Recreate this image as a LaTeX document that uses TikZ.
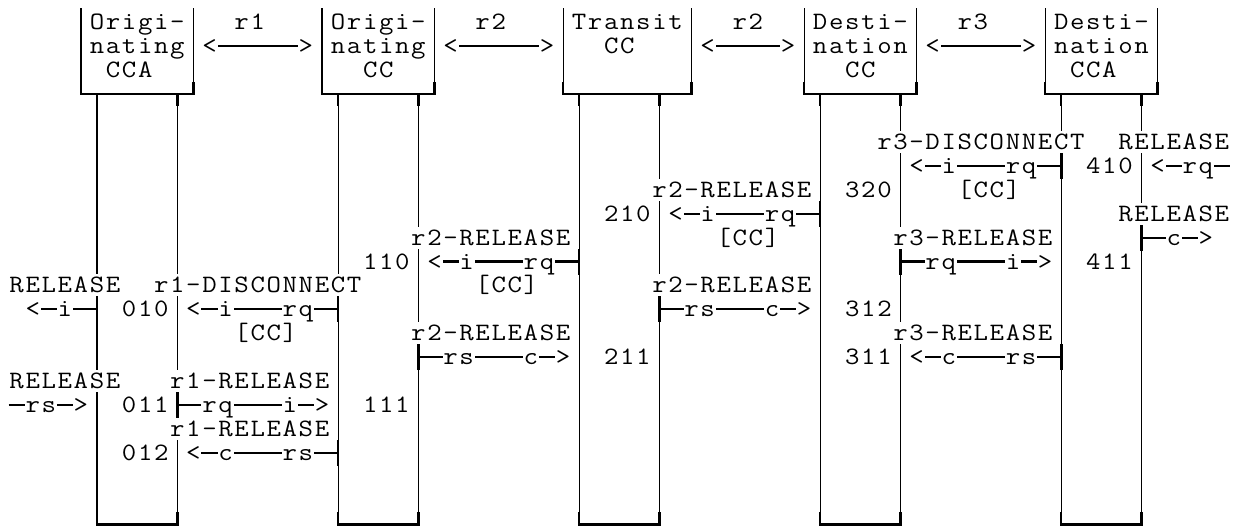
\documentclass[tikz,border=0pt]{standalone}
\usepackage{graphicx}
\usetikzlibrary{backgrounds}
\newlength\cellw
\setlength\cellw{16.07pt}
\ExplSyntaxOn
\NewDocumentCommand\gridtxt{m}{\tl_map_inline:nn{#1}{\makebox[\cellw][c]{\scalebox{1.12}[1]{##1}}}}
\ExplSyntaxOff
\newcommand\GT[4]{\node[txt] (#1) at (#2-0.5,#3) {\gridtxt{#4}};}
\begin{document}
\begin{tikzpicture}[x=16.07pt, y=-23.9pt,
  txt/.style={inner sep=0pt, outer sep=0pt, fill=white, anchor=base west,
    text height=18.5pt, text depth=3.5pt, yshift=-7.5pt,
    font=\fontsize{25}{25}\ttfamily\selectfont},
  thinln/.style={line width=1.1pt},
  thickln/.style={line width=2.5pt, line join=miter},
  msgln/.style={line width=2.2pt},
  tickln/.style={line width=2.6pt}]
\useasboundingbox (-0.6pt,22.5pt) rectangle (1244.4pt,-504.5pt);

% ---------- header texts ----------
\GT{b0a}{6}{0}{Origi-}
\GT{b0b}{6}{1}{nating}
\GT{b0c}{7}{2}{CCA}
\GT{b1a}{21}{0}{Origi-}
\GT{b1b}{21}{1}{nating}
\GT{b1c}{23}{2}{CC}
\GT{b2a}{36}{0}{Transit}
\GT{b2b}{38}{1}{CC}
\GT{b3a}{51}{0}{Desti-}
\GT{b3b}{51}{1}{nation}
\GT{b3c}{53}{2}{CC}
\GT{b4a}{66}{0}{Desti-}
\GT{b4b}{66}{1}{nation}
\GT{b4c}{67}{2}{CCA}
\GT{r1lab}{15}{0}{r1}
\GT{r2alab}{30}{0}{r2}
\GT{r2blab}{46}{0}{r2}
\GT{r3lab}{60}{0}{r3}
\GT{h1l}{13}{1}{<} \GT{h1r}{19}{1}{>}
\GT{h2l}{28}{1}{<} \GT{h2r}{34}{1}{>}
\GT{h3l}{44}{1}{<} \GT{h3r}{49}{1}{>}
\GT{h4l}{58}{1}{<} \GT{h4r}{64}{1}{>}

% ---------- labels ----------
\GT{L5a}{55}{5}{r3-DISCONNECT}
\GT{L5b}{70}{5}{RELEASE}
\GT{S410}{68}{6}{410}
\GT{L7a}{41}{7}{r2-RELEASE}
\GT{S320}{53}{7}{320}
\GT{C7}{60}{7}{[CC]}
\GT{S210}{38}{8}{210}
\GT{L8b}{70}{8}{RELEASE}
\GT{L9a}{26}{9}{r2-RELEASE}
\GT{C9}{45}{9}{[CC]}
\GT{L9b}{56}{9}{r3-RELEASE}
\GT{S110}{23}{10}{110}
\GT{S411}{68}{10}{411}
\GT{L11a}{1}{11}{RELEASE}
\GT{L11b}{10}{11}{r1-DISCONNECT}
\GT{C11}{30}{11}{[CC]}
\GT{L11c}{41}{11}{r2-RELEASE}
\GT{S010}{8}{12}{010}
\GT{S312}{53}{12}{312}
\GT{C13}{15}{13}{[CC]}
\GT{L13a}{26}{13}{r2-RELEASE}
\GT{L13b}{56}{13}{r3-RELEASE}
\GT{S211}{38}{14}{211}
\GT{S311}{53}{14}{311}
\GT{L15a}{1}{15}{RELEASE}
\GT{L15b}{11}{15}{r1-RELEASE}
\GT{S011}{8}{16}{011}
\GT{S111}{23}{16}{111}
\GT{L17}{11}{17}{r1-RELEASE}
\GT{S012}{8}{18}{012}

% ---------- message texts and end points ----------
% A
\GT{mAl}{2}{12}{<} \GT{mAi}{4}{12}{i} \coordinate (tA) at (6,12);
% B
\GT{mBl}{12}{12}{<} \GT{mBi}{14}{12}{i} \GT{mBq}{18}{12}{rq} \coordinate (tB) at (21,12);
% C
\coordinate (eC) at (0.5,16); \GT{mCs}{2}{16}{rs} \GT{mCr}{5}{16}{>}
% D
\coordinate (tD) at (11,16); \GT{mDq}{13}{16}{rq} \GT{mDi}{18}{16}{i} \GT{mDr}{20}{16}{>}
% E
\GT{mEl}{12}{18}{<} \GT{mEc}{14}{18}{c} \GT{mEs}{18}{18}{rs} \coordinate (tE) at (21,18);
% F
\GT{mFl}{27}{10}{<} \GT{mFi}{29}{10}{i} \GT{mFq}{33}{10}{rq} \coordinate (tF) at (36,10);
% G
\coordinate (tG) at (26,14); \GT{mGs}{28}{14}{rs} \GT{mGc}{33}{14}{c} \GT{mGr}{35}{14}{>}
% H
\GT{mHl}{42}{8}{<} \GT{mHi}{44}{8}{i} \GT{mHq}{48}{8}{rq} \coordinate (tH) at (51,8);
% I
\coordinate (tI) at (41,12); \GT{mIs}{43}{12}{rs} \GT{mIc}{48}{12}{c} \GT{mIr}{50}{12}{>}
% J
\GT{mJl}{57}{6}{<} \GT{mJi}{59}{6}{i} \GT{mJq}{63}{6}{rq} \coordinate (tJ) at (66,6);
% K
\coordinate (tK) at (56,10); \GT{mKq}{58}{10}{rq} \GT{mKi}{63}{10}{i} \GT{mKr}{65}{10}{>}
% L
\GT{mLl}{57}{14}{<} \GT{mLc}{59}{14}{c} \GT{mLs}{63}{14}{rs} \coordinate (tL) at (66,14);
% M
\GT{mMl}{72}{6}{<} \GT{mMq}{74}{6}{rq} \coordinate (eM) at (76.5,6);
% N
\coordinate (tN) at (71,9); \GT{mNc}{73}{9}{c} \GT{mNr}{75}{9}{>}

\begin{pgfonlayer}{background}
% boxes and lifelines
\foreach \L/\R/\a/\b in {5/12/6/11, 20/27/21/26, 35/43/36/41, 50/57/51/56, 65/72/66/71}{
  \draw[thinln] (\L,-0.6) -- (\L,2.5);
  \draw[thinln] (\R,-0.6) -- (\R,2.5);
  \draw[thickln] (\L,2.5) -- (\L,3) -- (\R,3) -- (\R,2.5);
  \draw[thickln] (\a,3) -- (\a,3.5);
  \draw[thickln] (\b,3) -- (\b,3.5);
  \draw[thinln] (\a,3.5) -- (\a,20.5);
  \draw[thinln] (\b,3.5) -- (\b,20.5);
  \draw[thickln] (\a,20.5) -- (\a,21) -- (\b,21) -- (\b,20.5);
}
% header arrows
\draw[msgln] (h1l.center) -- (h1r.center);
\draw[msgln] (h2l.center) -- (h2r.center);
\draw[msgln] (h3l.center) -- (h3r.center);
\draw[msgln] (h4l.center) -- (h4r.center);
% messages
\draw[msgln] (mAl.center) -- (tA);
\draw[msgln] (mBl.center) -- (tB);
\draw[msgln] (eC) -- (mCr.center);
\draw[msgln] (tD) -- (mDr.center);
\draw[msgln] (mEl.center) -- (tE);
\draw[msgln] (mFl.center) -- (tF);
\draw[msgln] (tG) -- (mGr.center);
\draw[msgln] (mHl.center) -- (tH);
\draw[msgln] (tI) -- (mIr.center);
\draw[msgln] (mJl.center) -- (tJ);
\draw[msgln] (tK) -- (mKr.center);
\draw[msgln] (mLl.center) -- (tL);
\draw[msgln] (mMl.center) -- (eM);
\draw[msgln] (tN) -- (mNr.center);
% ticks on lifelines
\foreach \t in {tA,tB,tD,tE,tF,tG,tH,tI,tJ,tK,tL,tN}{
  \draw[tickln] ([yshift=13pt]\t) -- ([yshift=-13pt]\t);
}
\end{pgfonlayer}
\end{tikzpicture}
\end{document}
